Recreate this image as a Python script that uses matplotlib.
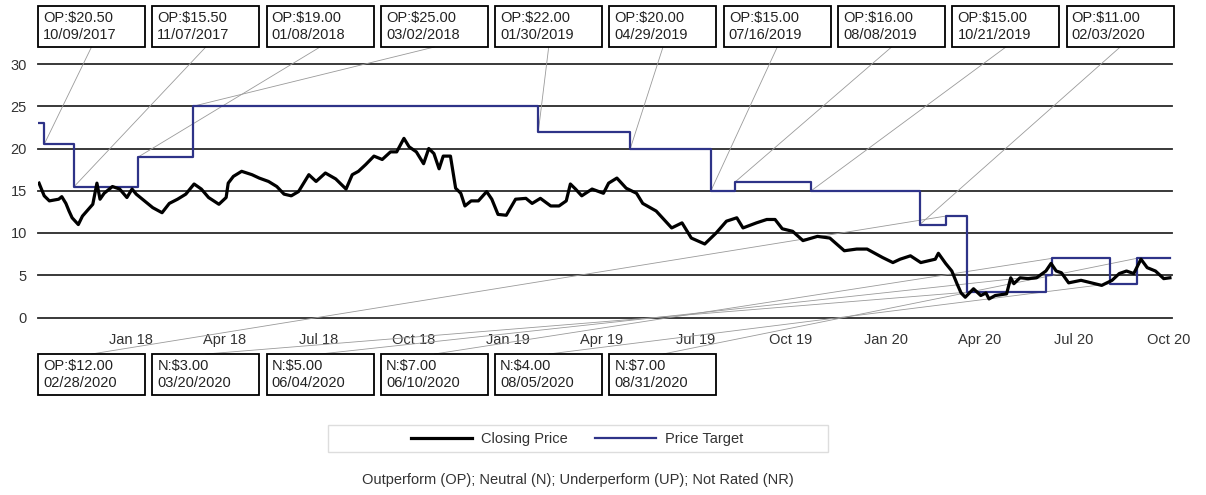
import pandas as pd
import matplotlib
matplotlib.use("Agg")
import matplotlib.pyplot as plt
import matplotlib.dates as mdates
from matplotlib.patches import Rectangle, ConnectionPatch
from matplotlib.lines import Line2D

plt.rcParams['font.family'] = ['Liberation Sans', 'DejaVu Sans']

# Closing price
price_dates = [
    '2017-10-04', '2017-10-09', '2017-10-14', '2017-10-23', '2017-10-26', '2017-10-30',
    '2017-11-02', '2017-11-05', '2017-11-11', '2017-11-15', '2017-11-20', '2017-11-25',
    '2017-11-29', '2017-12-02', '2017-12-06', '2017-12-14', '2017-12-21', '2017-12-28',
    '2018-01-02', '2018-01-06', '2018-01-14', '2018-01-22', '2018-01-31', '2018-02-07',
    '2018-02-15', '2018-02-23', '2018-03-03', '2018-03-10', '2018-03-17', '2018-03-27',
    '2018-04-03', '2018-04-05', '2018-04-10', '2018-04-18', '2018-04-28', '2018-05-05',
    '2018-05-14', '2018-05-22', '2018-05-29', '2018-06-05', '2018-06-12', '2018-06-22',
    '2018-06-29', '2018-07-08', '2018-07-18', '2018-07-28', '2018-08-03', '2018-08-09',
    '2018-08-16', '2018-08-24', '2018-09-01', '2018-09-09', '2018-09-15', '2018-09-22',
    '2018-09-27', '2018-10-04', '2018-10-11', '2018-10-16', '2018-10-21', '2018-10-26',
    '2018-10-30', '2018-11-06', '2018-11-11', '2018-11-16', '2018-11-20', '2018-11-26',
    '2018-12-03', '2018-12-11', '2018-12-16', '2018-12-22', '2018-12-30', '2019-01-08',
    '2019-01-18', '2019-01-24', '2019-02-01', '2019-02-11', '2019-02-19', '2019-02-26',
    '2019-03-02', '2019-03-07', '2019-03-13', '2019-03-23', '2019-04-03', '2019-04-08',
    '2019-04-16', '2019-04-25', '2019-05-05', '2019-05-11', '2019-05-24', '2019-06-08',
    '2019-06-18', '2019-06-27', '2019-07-10', '2019-07-21', '2019-07-31', '2019-08-10',
    '2019-08-16', '2019-08-29', '2019-09-08', '2019-09-16', '2019-09-23', '2019-10-03',
    '2019-10-13', '2019-10-27', '2019-11-08', '2019-11-22', '2019-12-04', '2019-12-14',
    '2019-12-29', '2020-01-08', '2020-01-15', '2020-01-25', '2020-02-04', '2020-02-18',
    '2020-02-21', '2020-02-28', '2020-03-05', '2020-03-10', '2020-03-14', '2020-03-18',
    '2020-03-26', '2020-04-02', '2020-04-07', '2020-04-10', '2020-04-16', '2020-04-27',
    '2020-05-01', '2020-05-04', '2020-05-10', '2020-05-18', '2020-05-26', '2020-06-04',
    '2020-06-09', '2020-06-14', '2020-06-19', '2020-06-26', '2020-07-08', '2020-07-18',
    '2020-07-28', '2020-08-07', '2020-08-14', '2020-08-21', '2020-08-28', '2020-09-04',
    '2020-09-10', '2020-09-18', '2020-09-26', '2020-10-02',
]
price_values = [
    15.9, 14.4, 13.8, 14.0, 14.3, 13.5,
    12.6, 11.8, 11.0, 12.0, 12.7, 13.4,
    15.9, 14.0, 14.7, 15.5, 15.2, 14.2,
    15.2, 14.6, 13.8, 13.0, 12.4, 13.5,
    14.0, 14.6, 15.8, 15.2, 14.2, 13.4,
    14.2, 15.9, 16.7, 17.3, 16.9, 16.5,
    16.1, 15.5, 14.6, 14.4, 14.9, 16.9,
    16.1, 17.1, 16.4, 15.2, 16.9, 17.3,
    18.1, 19.1, 18.7, 19.6, 19.6, 21.2,
    20.2, 19.6, 18.2, 20.0, 19.4, 17.6,
    19.1, 19.1, 15.3, 14.7, 13.2, 13.8,
    13.8, 14.9, 14.0, 12.2, 12.1, 14.0,
    14.1, 13.5, 14.1, 13.2, 13.2, 13.8,
    15.8, 15.2, 14.4, 15.2, 14.7, 15.9,
    16.5, 15.3, 14.7, 13.5, 12.6, 10.6,
    11.2, 9.4, 8.7, 10.0, 11.4, 11.8,
    10.6, 11.2, 11.6, 11.6, 10.5, 10.2,
    9.1, 9.6, 9.4, 7.9, 8.1, 8.1,
    7.1, 6.5, 6.9, 7.3, 6.5, 6.9,
    7.6, 6.4, 5.5, 4.0, 2.9, 2.4,
    3.4, 2.6, 2.9, 2.2, 2.6, 2.8,
    4.7, 4.0, 4.7, 4.6, 4.7, 5.5,
    6.4, 5.5, 5.3, 4.1, 4.4, 4.1,
    3.8, 4.4, 5.2, 5.5, 5.2, 6.9,
    5.9, 5.5, 4.6, 4.7,
]

# Rating / price target history
start_target = 23.0
rating_dates = ['10/09/2017', '11/07/2017', '01/08/2018', '03/02/2018', '01/30/2019',
                '04/29/2019', '07/16/2019', '08/08/2019', '10/21/2019', '02/03/2020',
                '02/28/2020', '03/20/2020', '06/04/2020', '06/10/2020', '08/05/2020',
                '08/31/2020']
ratings = ['OP', 'OP', 'OP', 'OP', 'OP', 'OP', 'OP', 'OP', 'OP', 'OP',
           'OP', 'N', 'N', 'N', 'N', 'N']
targets = [20.5, 15.5, 19.0, 25.0, 22.0, 20.0, 15.0, 16.0, 15.0, 11.0,
           12.0, 3.0, 5.0, 7.0, 4.0, 7.0]

y_ticks = [0, 5, 10, 15, 20, 25, 30]
footnote = 'Outperform (OP); Neutral (N); Underperform (UP); Not Rated (NR)'

W, H = 1206, 495


def fx(x):
    return x / W


def fy(y):
    return 1 - y / H


fig = plt.figure(figsize=(W / 100, H / 100), dpi=100)
ax = fig.add_axes([fx(38), fy(317.5), (1172 - 38) / W, (317.5 - 64) / H])

p_dates = pd.to_datetime(price_dates)
r_dates = pd.to_datetime(rating_dates, format='%m/%d/%Y')
t_dates = [p_dates[0]] + list(r_dates) + [p_dates[-1]]
t_values = [start_target] + targets + [targets[-1]]

for v in y_ticks:
    ax.axhline(v, color='#2a2a2a', lw=1.3, zorder=1, clip_on=False)

ax.step(t_dates, t_values, where='post', color='#2e3388', lw=1.6, zorder=3)
ax.plot(p_dates, price_values, color='black', lw=2.3, zorder=4)

ax.set_xlim(pd.Timestamp('2017-10-03'), pd.Timestamp('2020-10-04'))
ax.set_ylim(0, 30)
ax.set_yticks(y_ticks)
ax.xaxis.set_major_locator(mdates.MonthLocator(bymonth=[1, 4, 7, 10]))
ax.xaxis.set_major_formatter(mdates.DateFormatter('%b %y'))
ax.tick_params(axis='x', length=0, pad=11, labelsize=10.5, labelcolor='#333')
ax.tick_params(axis='y', length=0, pad=8, labelsize=10.5, labelcolor='#333')
for s in ax.spines.values():
    s.set_visible(False)
ax.patch.set_alpha(0)

# rating boxes with connector lines
BOX_W, BOX_H, STEP = 107, 41, 114.3
for i in range(len(targets)):
    label = '%s:\\$%.2f\n%s' % (ratings[i], targets[i], rating_dates[i])
    if i < 10:
        left, top = 38 + STEP * i, 6
        anchor = top + BOX_H
    else:
        left, top = 38 + STEP * (i - 10), 354
        anchor = top
    fig.add_artist(Rectangle((fx(left), fy(top + BOX_H)), BOX_W / W, BOX_H / H,
                             transform=fig.transFigure, fill=False, ec='black', lw=1.3))
    fig.text(fx(left + 5), fy(top + BOX_H / 2), label, ha='left', va='center',
             fontsize=10.5, linespacing=1.2, color='#222')
    con = ConnectionPatch(xyA=(fx(left + BOX_W / 2), fy(anchor)), coordsA=fig.transFigure,
                          xyB=(mdates.date2num(r_dates[i]), targets[i]), coordsB=ax.transData,
                          color='#9a9a9a', lw=0.6, zorder=2)
    con.set_clip_on(False)
    ax.add_artist(con)

# legend
fig.add_artist(Rectangle((fx(328), fy(452)), (828 - 328) / W, 27 / H,
                         transform=fig.transFigure, fill=False, ec='#dddddd', lw=1.0))
handles = [Line2D([], [], color='black', lw=2.3),
           Line2D([], [], color='#2e3388', lw=1.6)]
fig.legend(handles, ['Closing Price', 'Price Target'], loc='center',
           bbox_to_anchor=(fx(577), fy(439)), ncol=2, frameon=False,
           fontsize=10.5, handlelength=4.2, handletextpad=0.6, columnspacing=1.9,
           labelcolor='#333')

fig.text(fx(578), fy(480), footnote, ha='center', va='center', fontsize=10.5, color='#333')

fig.savefig('out.png', dpi=100)
